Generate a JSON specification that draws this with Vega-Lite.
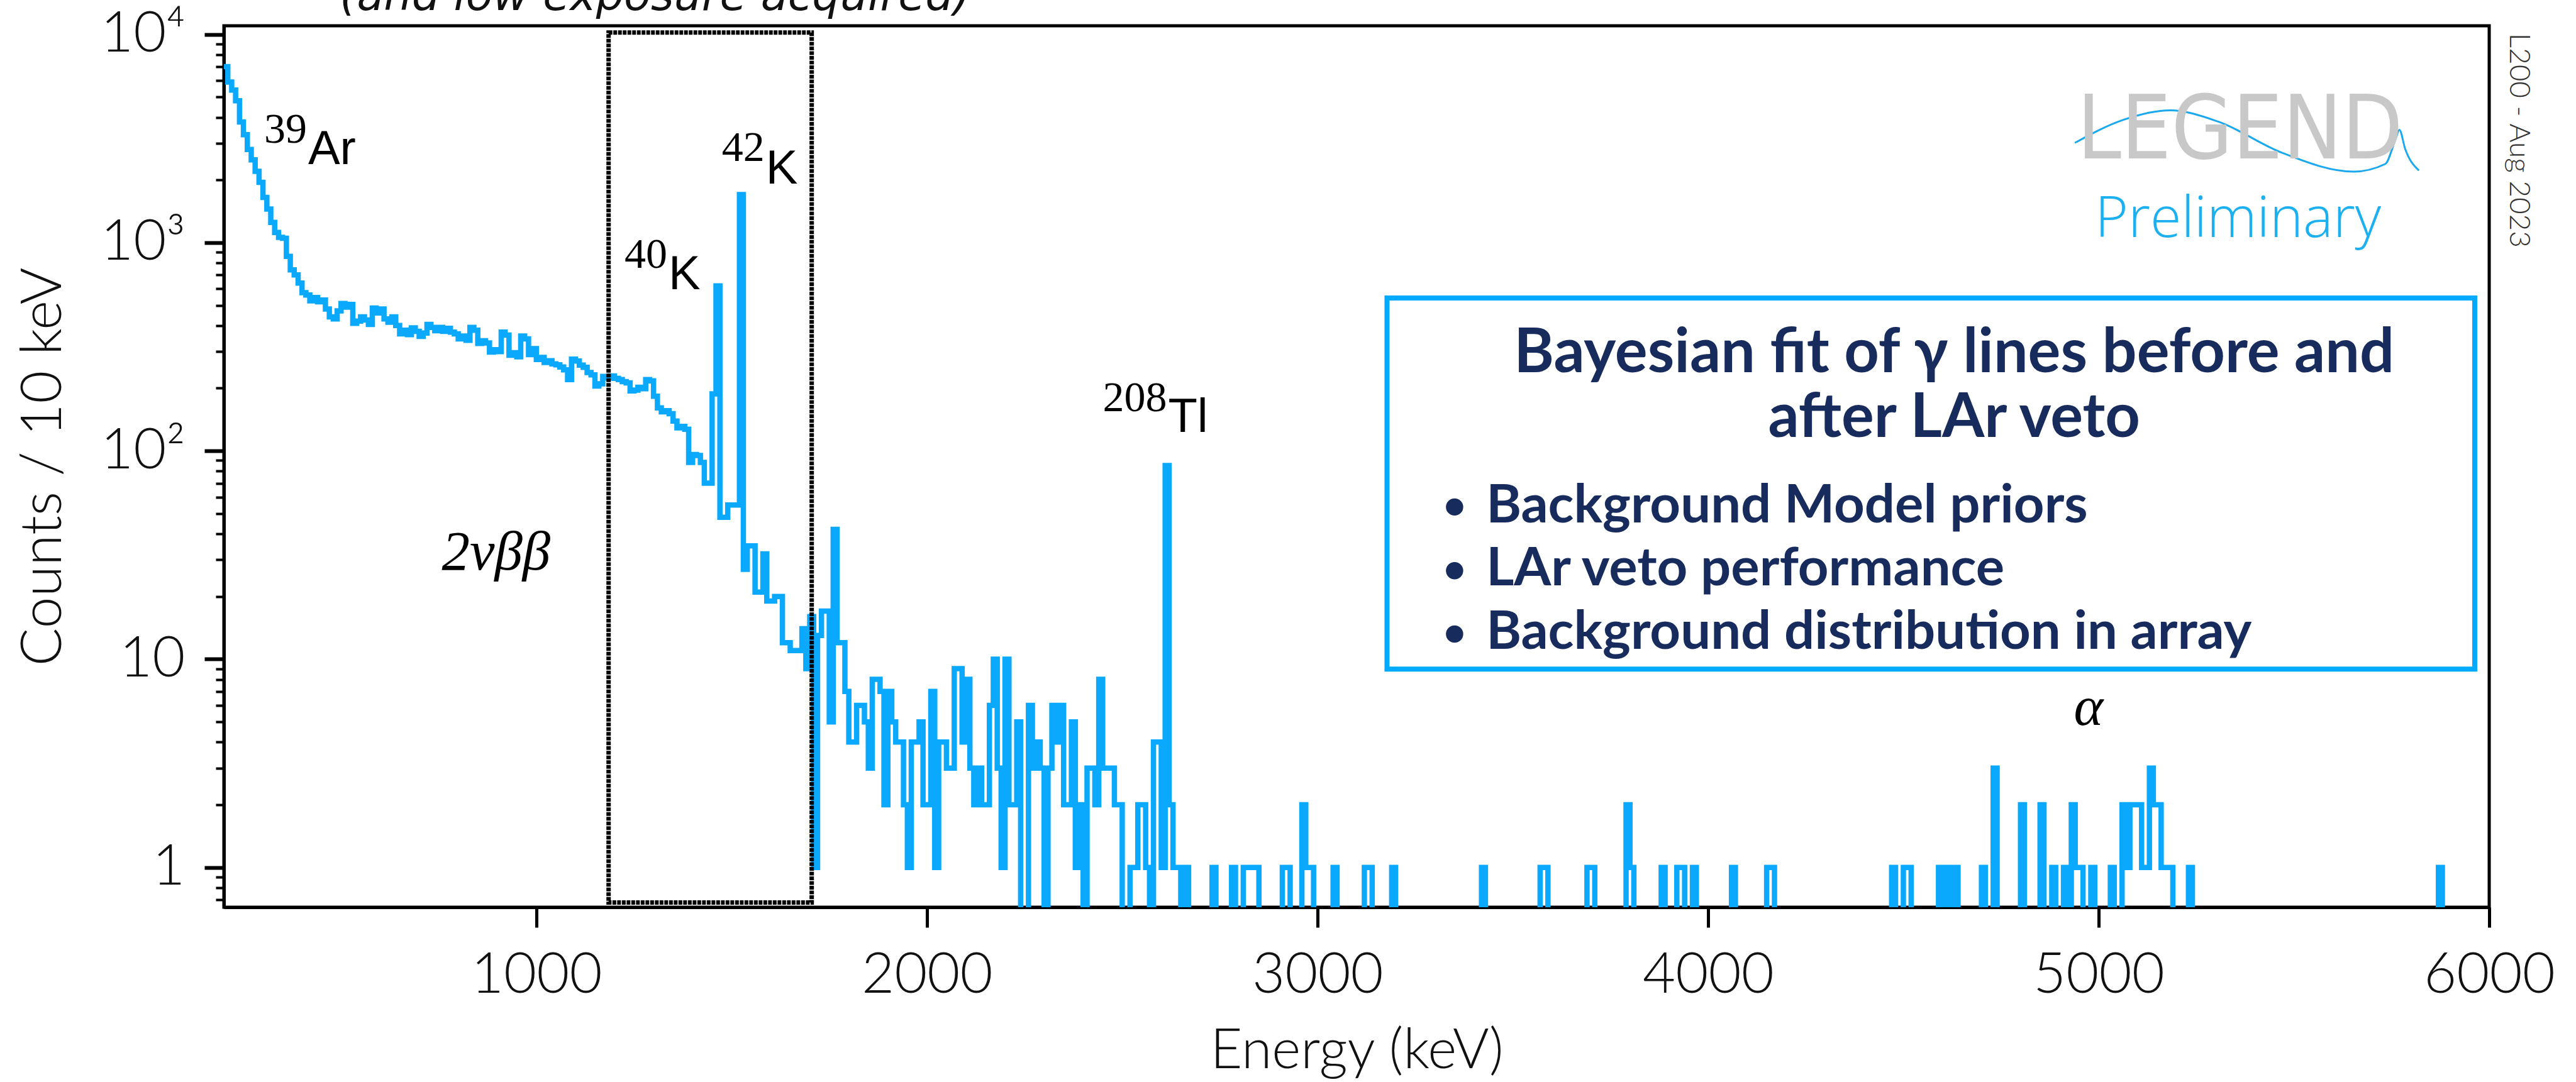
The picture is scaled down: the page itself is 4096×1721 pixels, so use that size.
{
"$schema":"https://vega.github.io/schema/vega-lite/v6.json",
"width":3602,"height":1402,
"autosize":{"type":"none"},
"padding":{"left":356,"top":41,"right":138,"bottom":278},
"background":"white",
"config":{"view":{"stroke":"black","strokeWidth":5},"axis":{"grid":false}},
"datasets":{
"hist":[
{"x":200,"c":7000},{"x":210,"c":5900},{"x":220,"c":5400},{"x":230,"c":4800},{"x":240,"c":3800},{"x":250,"c":3300},{"x":260,"c":2800},{"x":270,"c":2500},{"x":280,"c":2200},{"x":290,"c":1950},
{"x":300,"c":1650},{"x":310,"c":1450},{"x":320,"c":1250},{"x":330,"c":1120},{"x":340,"c":1060},{"x":350,"c":1050},{"x":360,"c":860},{"x":370,"c":740},{"x":380,"c":700},{"x":390,"c":640},
{"x":400,"c":575},{"x":410,"c":560},{"x":420,"c":526},{"x":430,"c":545},{"x":440,"c":520},{"x":450,"c":530},{"x":460,"c":480},{"x":470,"c":440},{"x":480,"c":430},{"x":490,"c":470},
{"x":500,"c":510},{"x":510,"c":490},{"x":520,"c":505},{"x":530,"c":410},{"x":540,"c":420},{"x":550,"c":440},{"x":560,"c":425},{"x":570,"c":405},{"x":580,"c":485},{"x":590,"c":460},
{"x":600,"c":480},{"x":610,"c":430},{"x":620,"c":415},{"x":630,"c":440},{"x":640,"c":400},{"x":650,"c":365},{"x":660,"c":380},{"x":670,"c":362},{"x":680,"c":390},{"x":690,"c":375},
{"x":700,"c":355},{"x":710,"c":368},{"x":720,"c":405},{"x":730,"c":392},{"x":740,"c":378},{"x":750,"c":392},{"x":760,"c":375},{"x":770,"c":388},{"x":780,"c":372},{"x":790,"c":365},
{"x":800,"c":345},{"x":810,"c":356},{"x":820,"c":340},{"x":830,"c":392},{"x":840,"c":380},{"x":850,"c":328},{"x":860,"c":338},{"x":870,"c":330},{"x":880,"c":298},{"x":890,"c":306},
{"x":900,"c":300},{"x":910,"c":372},{"x":920,"c":360},{"x":930,"c":288},{"x":940,"c":296},{"x":950,"c":283},{"x":960,"c":356},{"x":970,"c":345},{"x":980,"c":290},{"x":990,"c":310},
{"x":1000,"c":275},{"x":1010,"c":281},{"x":1020,"c":266},{"x":1030,"c":271},{"x":1040,"c":262},{"x":1050,"c":259},{"x":1060,"c":253},{"x":1070,"c":245},{"x":1080,"c":220},{"x":1090,"c":276},
{"x":1100,"c":270},{"x":1110,"c":258},{"x":1120,"c":252},{"x":1130,"c":238},{"x":1140,"c":232},{"x":1150,"c":205},{"x":1160,"c":210},{"x":1170,"c":228},{"x":1180,"c":224},{"x":1190,"c":229},
{"x":1200,"c":223},{"x":1210,"c":220},{"x":1220,"c":215},{"x":1230,"c":212},{"x":1240,"c":194},{"x":1250,"c":196},{"x":1260,"c":202},{"x":1270,"c":199},{"x":1280,"c":220},{"x":1290,"c":217},
{"x":1300,"c":183},{"x":1310,"c":161},{"x":1320,"c":154},{"x":1330,"c":156},{"x":1340,"c":151},{"x":1350,"c":139},{"x":1360,"c":129},{"x":1370,"c":131},{"x":1380,"c":127},{"x":1390,"c":88},
{"x":1400,"c":96},{"x":1410,"c":95},{"x":1420,"c":88},{"x":1430,"c":70},{"x":1440,"c":70},{"x":1450,"c":188},{"x":1460,"c":620},{"x":1470,"c":48},{"x":1480,"c":48},{"x":1490,"c":55},
{"x":1500,"c":55},{"x":1510,"c":55},{"x":1520,"c":1700},{"x":1530,"c":27},{"x":1540,"c":35},{"x":1550,"c":35},{"x":1560,"c":21},{"x":1570,"c":21},{"x":1580,"c":32},{"x":1590,"c":19},
{"x":1600,"c":19},{"x":1610,"c":20},{"x":1620,"c":20},{"x":1630,"c":12},{"x":1640,"c":12},{"x":1650,"c":11},{"x":1660,"c":11},{"x":1670,"c":11},{"x":1680,"c":14},{"x":1690,"c":9},
{"x":1700,"c":16},{"x":1710,"c":1},{"x":1720,"c":13},{"x":1730,"c":17},{"x":1740,"c":17},{"x":1750,"c":5},{"x":1760,"c":42},{"x":1770,"c":12},{"x":1780,"c":12},{"x":1790,"c":7},
{"x":1800,"c":4},{"x":1810,"c":4},{"x":1820,"c":6},{"x":1830,"c":6},{"x":1840,"c":5},{"x":1850,"c":3},{"x":1860,"c":8},{"x":1870,"c":8},{"x":1880,"c":7},{"x":1890,"c":2},
{"x":1900,"c":7},{"x":1910,"c":5},{"x":1920,"c":4},{"x":1930,"c":4},{"x":1940,"c":2},{"x":1950,"c":1},{"x":1960,"c":4},{"x":1970,"c":4},{"x":1980,"c":5},{"x":1990,"c":2},
{"x":2000,"c":2},{"x":2010,"c":7},{"x":2020,"c":1},{"x":2030,"c":4},{"x":2040,"c":4},{"x":2050,"c":3},{"x":2060,"c":3},{"x":2070,"c":9},{"x":2080,"c":9},{"x":2090,"c":4},
{"x":2100,"c":8},{"x":2110,"c":3},{"x":2120,"c":2},{"x":2130,"c":3},{"x":2140,"c":2},{"x":2150,"c":2},{"x":2160,"c":6},{"x":2170,"c":10},{"x":2180,"c":3},{"x":2190,"c":1},
{"x":2200,"c":10},{"x":2210,"c":2},{"x":2220,"c":2},{"x":2230,"c":5},{"x":2240,"c":0},{"x":2250,"c":0},{"x":2260,"c":6},{"x":2270,"c":3},{"x":2280,"c":4},{"x":2290,"c":3},
{"x":2300,"c":0},{"x":2310,"c":3},{"x":2320,"c":6},{"x":2330,"c":4},{"x":2340,"c":6},{"x":2350,"c":2},{"x":2360,"c":2},{"x":2370,"c":5},{"x":2380,"c":1},{"x":2390,"c":2},
{"x":2400,"c":0},{"x":2410,"c":3},{"x":2420,"c":3},{"x":2430,"c":2},{"x":2440,"c":8},{"x":2450,"c":3},{"x":2460,"c":3},{"x":2470,"c":3},{"x":2480,"c":2},{"x":2490,"c":2},
{"x":2500,"c":0},{"x":2510,"c":0},{"x":2520,"c":1},{"x":2530,"c":1},{"x":2540,"c":2},{"x":2550,"c":2},{"x":2560,"c":1},{"x":2570,"c":0},{"x":2580,"c":4},{"x":2590,"c":4},
{"x":2600,"c":1},{"x":2610,"c":85},{"x":2620,"c":2},{"x":2630,"c":1},{"x":2640,"c":1},{"x":2650,"c":0},{"x":2660,"c":1},{"x":2670,"c":0},
{"x":2730,"c":1},{"x":2740,"c":0},{"x":2780,"c":1},{"x":2790,"c":0},{"x":2810,"c":1},{"x":2820,"c":1},{"x":2830,"c":1},{"x":2840,"c":1},{"x":2850,"c":0},
{"x":2910,"c":1},{"x":2920,"c":1},{"x":2930,"c":0},{"x":2960,"c":2},{"x":2970,"c":1},{"x":2980,"c":1},{"x":2990,"c":0},{"x":3040,"c":1},{"x":3050,"c":0},
{"x":3120,"c":1},{"x":3130,"c":1},{"x":3140,"c":0},{"x":3190,"c":1},{"x":3200,"c":0},{"x":3420,"c":1},{"x":3430,"c":0},{"x":3570,"c":1},{"x":3580,"c":1},{"x":3590,"c":0},
{"x":3690,"c":1},{"x":3700,"c":1},{"x":3710,"c":0},{"x":3790,"c":2},{"x":3800,"c":1},{"x":3810,"c":0},{"x":3880,"c":1},{"x":3890,"c":0},{"x":3920,"c":1},{"x":3930,"c":1},{"x":3940,"c":0},
{"x":3960,"c":1},{"x":3970,"c":0},{"x":4060,"c":1},{"x":4070,"c":0},{"x":4150,"c":1},{"x":4160,"c":1},{"x":4170,"c":0},{"x":4470,"c":1},{"x":4480,"c":0},{"x":4500,"c":1},{"x":4510,"c":1},{"x":4520,"c":0},
{"x":4590,"c":1},{"x":4600,"c":0},{"x":4610,"c":1},{"x":4620,"c":0},{"x":4630,"c":1},{"x":4640,"c":0},{"x":4700,"c":1},{"x":4710,"c":0},{"x":4730,"c":3},{"x":4740,"c":0},
{"x":4800,"c":2},{"x":4810,"c":0},{"x":4850,"c":2},{"x":4860,"c":0},{"x":4880,"c":1},{"x":4890,"c":0},{"x":4910,"c":1},{"x":4920,"c":0},{"x":4930,"c":2},{"x":4940,"c":1},{"x":4950,"c":1},{"x":4960,"c":0},
{"x":4980,"c":1},{"x":4990,"c":0},{"x":5030,"c":1},{"x":5040,"c":0},{"x":5060,"c":2},{"x":5070,"c":1},{"x":5080,"c":2},{"x":5090,"c":2},{"x":5100,"c":2},{"x":5110,"c":1},{"x":5120,"c":1},
{"x":5130,"c":3},{"x":5140,"c":2},{"x":5150,"c":2},{"x":5160,"c":1},{"x":5170,"c":1},{"x":5180,"c":1},{"x":5190,"c":0},{"x":5230,"c":1},{"x":5240,"c":0},{"x":5870,"c":1},{"x":5880,"c":0},{"x":6000,"c":0}
]
},
"encoding":{
"x":{"field":"x","type":"quantitative","scale":{"domain":[200,6000],"nice":false,"zero":false},
"axis":{"values":[1000,2000,3000,4000,5000,6000],"format":"d","grid":false,"domainColor":"black","domainWidth":5,"tickColor":"black","tickSize":32,"tickWidth":5,"labelFont":"Lato","labelFontWeight":300,"labelFontSize":90,"labelColor":"#111111","labelBaseline":"alphabetic","labelPadding":103,"labelFlush":false,"labelOverlap":false,"labelLimit":0,"title":"Energy (keV)","titleFont":"Lato","titleFontWeight":300,"titleFontSize":88,"titleColor":"#111111","titleBaseline":"alphabetic","titleX":1801,"titleY":255,"titleAlign":"center","titleAnchor":"middle","titleLimit":0}},
"y":{"field":"y","type":"quantitative","scale":{"type":"log","domain":[0.644,11000],"nice":false},
"axis":{"values":[0.7,0.8,0.9,1,2,3,4,5,6,7,8,9,10,20,30,40,50,60,70,80,90,100,200,300,400,500,600,700,800,900,1000,2000,3000,4000,5000,6000,7000,8000,9000,10000],
"grid":false,"domainColor":"black","domainWidth":5,"tickColor":"black",
"tickSize":{"condition":{"test":"indexof([1,10,100,1000,10000], datum.value) >= 0","value":31},"value":13},
"tickWidth":{"condition":{"test":"indexof([1,10,100,1000,10000], datum.value) >= 0","value":6},"value":4},
"labelExpr":"datum.value == 1 ? '1' : datum.value == 10 ? '10' : datum.value == 100 ? '10²' : datum.value == 1000 ? '10³' : datum.value == 10000 ? '10⁴' : ''",
"labelFont":"Lato","labelFontWeight":300,"labelFontSize":90,"labelColor":"#111111","labelPadding":31,"labelOverlap":false,"labelBound":false,"labelFlush":false,"labelBaseline":"middle","labelLimit":0,
"title":"Counts / 10 keV","titleFont":"Lato","titleFontWeight":300,"titleFontSize":90,"titleColor":"#111111","titleAngle":-90,"titleX":-260,"titleY":701,"titleBaseline":"alphabetic","titleAlign":"center","titleLimit":0}}
},
"layer":[
{"data":{"name":"hist"},"transform":[{"calculate":"datum.c > 0 ? datum.c : 0.3","as":"y"}],
"mark":{"type":"line","interpolate":"step-after","color":"#0aa9fd","strokeWidth":8.5,"clip":true}},
{"data":{"values":[{"x":1185,"x2":1705,"y":0.678,"y2":10200}]},
"mark":{"type":"rect","filled":false,"stroke":"black","strokeWidth":7,"strokeDash":[6,1.5]},
"encoding":{"x2":{"field":"x2"},"y2":{"field":"y2"}}},
{"data":{"values":[{"x":3178,"x2":5963,"y":8.96,"y2":542}]},
"mark":{"type":"rect","filled":false,"stroke":"#00aaff","strokeWidth":8},
"encoding":{"x2":{"field":"x2"},"y2":{"field":"y2"}}},
{"data":{"values":[{"x":4939,"y":3013},{"x":5062,"y":3880},{"x":5183,"y":4318},{"x":5306,"y":3813},{"x":5469,"y":2704},{"x":5653,"y":2193},{"x":5734,"y":2388},{"x":5760,"y":3132},{"x":5770,"y":3484},{"x":5785,"y":2813},{"x":5820,"y":2220}]},
"mark":{"type":"line","interpolate":"monotone","color":"#1aa8ee","strokeWidth":3}},
{"data":{"values":[{"x":5362,"y":2529,"t":"LEGEND"}]},
"mark":{"type":"text","font":"Liberation Sans Narrow, DejaVu Sans Condensed, sans-serif","fontSize":140,"color":"#c8c8c8","align":"center","baseline":"alphabetic"},
"encoding":{"text":{"field":"t"}}},
{"data":{"values":[{"x":5357,"y":1061,"t":"Preliminary"}]},
"mark":{"type":"text","font":"Open Sans","fontWeight":300,"fontSize":90,"color":"#1cb0f0","align":"center","baseline":"alphabetic"},
"encoding":{"text":{"field":"t"}}},
{"data":{"values":[{"x":6076,"y":3097,"t":"L200 - Aug 2023"}]},
"mark":{"type":"text","font":"Lato","fontWeight":300,"fontSize":46,"color":"#333333","align":"center","baseline":"middle","angle":90},
"encoding":{"text":{"field":"t"}}},
{"data":{"values":[{"x":1304,"y":13110,"t":"(and low exposure acquired)"}]},
"mark":{"type":"text","font":"DejaVu Sans","fontStyle":"italic","fontSize":70,"color":"#111111","align":"center","baseline":"alphabetic"},
"encoding":{"text":{"field":"t"}}},
{"data":{"values":[{"x":414,"y":3010,"t":"39"},{"x":1337,"y":757,"t":"40"},{"x":1586,"y":2472,"t":"42"},{"x":2616,"y":155,"t":"208"}]},
"mark":{"type":"text","font":"Liberation Serif","fontSize":68,"color":"black","align":"right","baseline":"alphabetic","dx":-1},
"encoding":{"text":{"field":"t"}}},
{"data":{"values":[{"x":414,"y":2389,"t":"Ar"},{"x":1337,"y":597,"t":"K"},{"x":1586,"y":1928,"t":"K"},{"x":2616,"y":123,"t":"Tl"}]},
"mark":{"type":"text","font":"Liberation Sans","fontSize":76,"color":"black","align":"left","baseline":"alphabetic","dx":1},
"encoding":{"text":{"field":"t"}}},
{"data":{"values":[{"x":897,"y":26.9,"t":"2νββ"},{"x":4974,"y":4.82,"t":"α"}]},
"mark":{"type":"text","font":"Liberation Serif","fontStyle":"italic","fontSize":89,"color":"black","align":"center","baseline":"alphabetic"},
"encoding":{"text":{"field":"t"}}},
{"data":{"values":[{"x":4630,"y":239,"t":"Bayesian fit of γ lines before and"},{"x":4630,"y":116.5,"t":"after LAr veto"}]},
"mark":{"type":"text","font":"Lato","fontWeight":700,"fontSize":97,"color":"#172b5c","align":"center","baseline":"alphabetic"},
"encoding":{"text":{"field":"t"}}},
{"data":{"values":[{"x":3432,"y":45.4,"t":"Background Model priors"},{"x":3432,"y":22.6,"t":"LAr veto performance"},{"x":3432,"y":11.2,"t":"Background distribution in array"}]},
"mark":{"type":"text","font":"Lato","fontWeight":700,"fontSize":85,"color":"#172b5c","align":"left","baseline":"alphabetic"},
"encoding":{"text":{"field":"t"}}},
{"data":{"values":[{"x":3351,"y":53.8},{"x":3351,"y":26.6},{"x":3351,"y":13.2}]},
"mark":{"type":"point","shape":"circle","filled":true,"size":755,"color":"#172b5c","opacity":1}}
]
}
